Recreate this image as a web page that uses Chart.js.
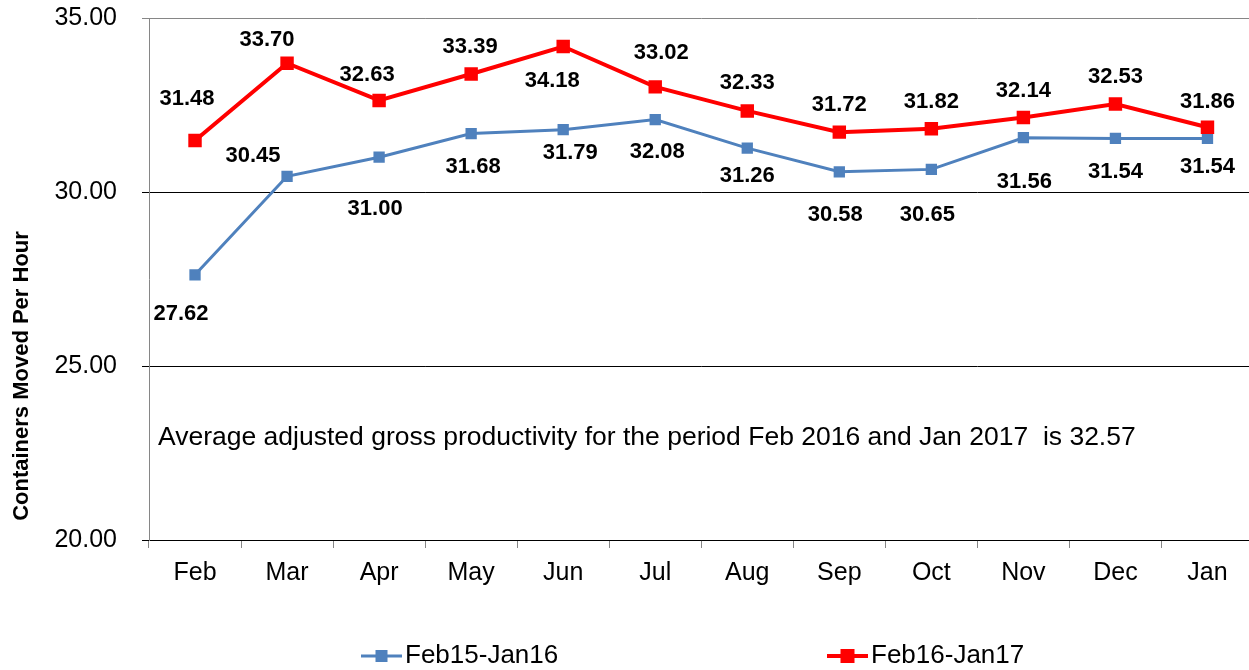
<!DOCTYPE html>
<html>
<head>
<meta charset="utf-8">
<script src="https://cdn.jsdelivr.net/npm/chart.js@4.4.0/dist/chart.umd.min.js"></script>
<style>
  html, body { margin: 0; padding: 0; background: #fff; overflow: hidden; }
  #wrap { width: 1263px; height: 670px; position: relative; }
</style>
</head>
<body>
<div id="wrap"><canvas id="chart"></canvas></div>
<script>
const MONTHS = ['Feb', 'Mar', 'Apr', 'May', 'Jun', 'Jul', 'Aug', 'Sep', 'Oct', 'Nov', 'Dec', 'Jan'];
const PREV_VALUES = [27.62, 30.45, 31.00, 31.68, 31.79, 32.08, 31.26, 30.58, 30.65, 31.56, 31.54, 31.54];
const CURR_VALUES = [31.48, 33.70, 32.63, 33.39, 34.18, 33.02, 32.33, 31.72, 31.82, 32.14, 32.53, 31.86];
const SERIES_NAMES = ['Feb15-Jan16', 'Feb16-Jan17'];
const Y_TICKS = [20, 25, 30, 35];
const NOTE = 'Average adjusted gross productivity for the period Feb 2016 and Jan 2017  is 32.57';
const Y_TITLE = 'Containers Moved Per Hour';

// where each value label sits relative to its marker (hand placed in the original)
const PREV_LABEL_DX = [-14, -34, -4, 2, 7, 2, 0, -4, -4, 1, 0, 0];
const PREV_LABEL_DY = [39, -20, 52, 33, 23, 32, 28, 43, 46, 44, 34, 29];
const CURR_LABEL_DX = [-8, -20, -12, -1, -11, 6, 0, 0, 0, 0, 0, 0];
const CURR_LABEL_DY = [-42, -23, -26, -27, 34, -34, -28, -27, -27, -27, -27, -25];

const BLUE = '#4f81bd';
const RED = '#ff0000';
const FONT = "'Liberation Sans', Arial, sans-serif";

const labelsPlugin = {
  id: 'valueLabels',
  afterDatasetsDraw(chart) {
    const { ctx } = chart;
    const sets = [
      { idx: 0, vals: PREV_VALUES, dx: PREV_LABEL_DX, dy: PREV_LABEL_DY },
      { idx: 1, vals: CURR_VALUES, dx: CURR_LABEL_DX, dy: CURR_LABEL_DY }
    ];
    ctx.save();
    ctx.font = 'bold 22px ' + FONT;
    ctx.fillStyle = '#000';
    ctx.textAlign = 'center';
    ctx.textBaseline = 'middle';
    sets.forEach((s) => {
      const meta = chart.getDatasetMeta(s.idx);
      meta.data.forEach((pt, i) => {
        ctx.fillText(s.vals[i].toFixed(2), pt.x + s.dx[i], pt.y + s.dy[i]);
      });
    });
    ctx.restore();
  }
};

const extrasPlugin = {
  id: 'extras',
  afterDraw(chart) {
    const { ctx } = chart;
    ctx.save();
    // note inside plot
    ctx.font = '26.5px ' + FONT;
    ctx.fillStyle = '#000';
    ctx.textAlign = 'left';
    ctx.textBaseline = 'middle';
    ctx.fillText(NOTE, 158, 438);

    // y axis title
    ctx.save();
    ctx.translate(22, 376);
    ctx.rotate(-Math.PI / 2);
    ctx.font = 'bold 22px ' + FONT;
    ctx.textAlign = 'center';
    ctx.fillText(Y_TITLE, 0, 0);
    ctx.restore();

    // legend
    const items = [
      { x: 361, color: BLUE, lw: 3, size: 12 },
      { x: 827, color: RED, lw: 4, size: 14 }
    ];
    const ly = 656;
    items.forEach((it, i) => {
      ctx.strokeStyle = it.color;
      ctx.lineWidth = it.lw;
      ctx.beginPath();
      ctx.moveTo(it.x, ly);
      ctx.lineTo(it.x + 41, ly);
      ctx.stroke();
      ctx.fillStyle = it.color;
      ctx.fillRect(it.x + 20.5 - it.size / 2, ly - it.size / 2, it.size, it.size);
      ctx.fillStyle = '#000';
      ctx.font = '26px ' + FONT;
      ctx.textAlign = 'left';
      ctx.fillText(SERIES_NAMES[i], it.x + 44, ly);
    });
    ctx.restore();
  }
};

new Chart(document.getElementById('chart'), {
  type: 'line',
  data: {
    labels: MONTHS,
    datasets: [
      {
        label: SERIES_NAMES[0],
        data: PREV_VALUES,
        borderColor: BLUE,
        backgroundColor: BLUE,
        borderWidth: 3,
        pointStyle: 'rect',
        pointRadius: 8,
        pointBorderWidth: 0,
        tension: 0,
        order: 1
      },
      {
        label: SERIES_NAMES[1],
        data: CURR_VALUES,
        borderColor: RED,
        backgroundColor: RED,
        borderWidth: 4,
        pointStyle: 'rect',
        pointRadius: 9.5,
        pointBorderWidth: 0,
        tension: 0,
        order: 0
      }
    ]
  },
  options: {
    responsive: true,
    maintainAspectRatio: false,
    animation: false,
    layout: { padding: { top: 18, right: 0, left: 0, bottom: 0 } },
    scales: {
      x: {
        offset: true,
        afterFit: (scale) => {
          scale.height = 130;
          scale.paddingLeft = 0;
          scale.paddingRight = 0;
        },
        grid: {
          offset: true,
          drawOnChartArea: false,
          tickLength: 8,
          color: '#868686'
        },
        border: { color: '#000', width: 1 },
        ticks: {
          color: '#000',
          padding: 10,
          font: { family: FONT, size: 25 },
          maxRotation: 0
        }
      },
      y: {
        min: 20,
        max: 35,
        afterFit: (scale) => {
          scale.width = 149;
          scale.paddingTop = 0;
          scale.paddingBottom = 0;
        },
        afterBuildTicks: (scale) => { scale.ticks = Y_TICKS.map((v) => ({ value: v })); },
        grid: {
          tickLength: 7,
          color: (c) => (c.tick && c.tick.value === 35 ? '#868686' : '#000'),
          lineWidth: 1
        },
        border: { color: '#868686', width: 1 },
        ticks: {
          color: '#000',
          padding: 25,
          font: { family: FONT, size: 25 },
          callback: (v) => Number(v).toFixed(2)
        }
      }
    },
    plugins: {
      legend: { display: false },
      tooltip: { enabled: false }
    }
  },
  plugins: [labelsPlugin, extrasPlugin]
});
</script>
</body>
</html>
